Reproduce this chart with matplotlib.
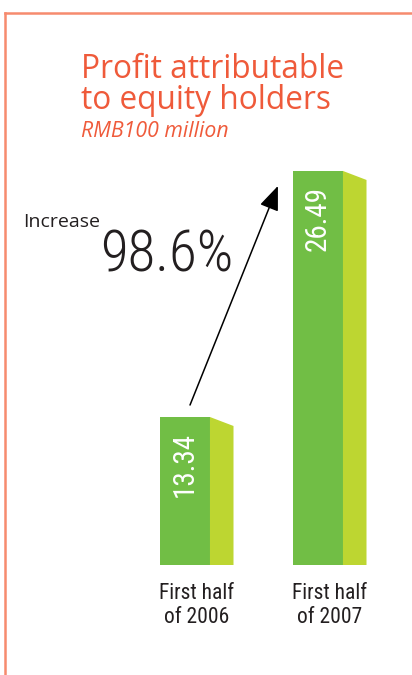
import matplotlib
import matplotlib.pyplot as plt
from matplotlib.lines import Line2D
from matplotlib.patches import Polygon

matplotlib.use("Agg")

categories = ["First half\nof 2006", "First half\nof 2007"]
profit = [13.34, 26.49]
increase_pct = 98.6

title_lines = ["Profit attributable", "to equity holders"]
subtitle = "RMB100 million"

W, H = 412, 675
ORANGE = "#EF5A3A"
BORDER = "#F68B6E"
FRONT = "#71BE45"
SIDE = "#BDD631"
INK = "#231F20"
NARROW = ["Roboto Condensed", "DejaVu Sans"]
HUMAN = ["Open Sans", "DejaVu Sans"]


def fx(px):
    return px / W


def fy(py):
    return 1 - py / H


fig = plt.figure(figsize=(W / 100, H / 100), dpi=100)

# frame: top and left rules
fig.add_artist(Line2D([fx(5), 1], [fy(13), fy(13)], color=BORDER, lw=1.8))
fig.add_artist(Line2D([fx(5), fx(5)], [fy(13), 0], color=BORDER, lw=1.8))

fig.text(fx(81), fy(78), title_lines[0], color=ORANGE, fontsize=22.8,
         family=HUMAN, va="baseline")
fig.text(fx(81), fy(109), title_lines[1], color=ORANGE, fontsize=22.8,
         family=HUMAN, va="baseline")
fig.text(fx(81), fy(137), subtitle, color=ORANGE, fontsize=15.3,
         family=HUMAN, style="italic", va="baseline")

fig.text(fx(23), fy(227), "Increase", color=INK, fontsize=14,
         family=HUMAN, va="baseline")
fig.text(fx(100), fy(272), f"{increase_pct:.1f}%", color=INK, fontsize=41,
         family=NARROW, stretch="condensed", weight="light", va="baseline")

ax = fig.add_axes([fx(140), fy(565), fx(250), 415 / H])
ax.set_xlim(-0.15, -0.15 + 250 / 133)
ax.set_ylim(5.43, 5.43 + 415 / 18.71)
ax.axis("off")

front_w = 0.376
depth = 0.177
slant = 0.48
ybot = ax.get_ylim()[0]
xs = list(range(len(profit)))

ax.bar(xs, profit, width=front_w, align="edge", color=FRONT, zorder=2)
for x, v in zip(xs, profit):
    side = Polygon([(x + front_w, ybot), (x + front_w, v),
                    (x + front_w + depth, v - slant),
                    (x + front_w + depth, ybot)],
                   closed=True, facecolor=SIDE, edgecolor="none", zorder=2)
    ax.add_patch(side)
    ax.text(x + front_w / 2, v - 0.8, f"{v:.2f}", rotation=90, color="white",
            fontsize=21, family=NARROW, stretch="condensed",
            ha="center", va="top", zorder=3)
    ax.text(x + (front_w + depth) / 2, ybot - 0.95, categories[x], color=INK,
            fontsize=15.5, family=NARROW, stretch="condensed",
            ha="center", va="top", linespacing=1.2, clip_on=False)

ax.annotate("", xy=(0.887, profit[1] - 0.8), xytext=(0.226, profit[0] + 0.64),
            arrowprops=dict(arrowstyle="-|>,head_length=15,head_width=6",
                            mutation_scale=1, color="black", lw=1.1,
                            shrinkA=0, shrinkB=0))

fig.savefig("out.png", dpi=100)
